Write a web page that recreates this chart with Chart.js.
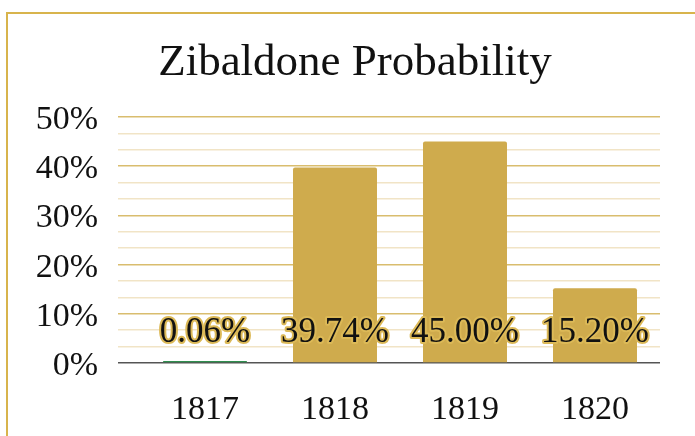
<!DOCTYPE html>
<html>
<head>
<meta charset="utf-8">
<script src="https://cdn.jsdelivr.net/npm/chart.js@4.4.0/dist/chart.umd.min.js"></script>
<style>
  html, body { margin: 0; padding: 0; background: #fff; }
  #wrap { position: relative; width: 695px; height: 436px; overflow: hidden; }
  #frame { position: absolute; left: 6px; top: 12px; width: 720px; height: 460px;
           border-top: 2px solid #d8b44c; border-left: 2px solid #d8b44c; }
  #title { position: absolute; left: 0; top: 33px; width: 710px; text-align: center;
           font: 45px/54px 'Liberation Serif', 'DejaVu Serif', serif; color: #111; }
  canvas { position: absolute; left: 0; top: 0; }
</style>
</head>
<body>
<div id="wrap">
  <div id="frame"></div>
  <canvas id="myChart" width="695" height="436"></canvas>
  <div id="title">Zibaldone Probability</div>
</div>
<script>
// values
const years = ['1817', '1818', '1819', '1820'];
const probability = [0.06, 39.74, 45.00, 15.20];
const barColors = ['#2f8f4e', '#cfab4d', '#cfab4d', '#cfab4d'];

const serif = "'Liberation Serif', 'DejaVu Serif', serif";

// labels sitting just above the base of each bar
const barLabels = {
    id: 'barLabels',
    afterDatasetsDraw(chart) {
        const ctx = chart.ctx;
        const meta = chart.getDatasetMeta(0);
        const base = chart.scales.y.getPixelForValue(0);
        ctx.save();
        ctx.font = '35px ' + serif;
        ctx.textAlign = 'center';
        ctx.textBaseline = 'alphabetic';
        ctx.lineJoin = 'round';
        meta.data.forEach((bar, i) => {
            let txt = probability[i].toFixed(2) + '%';
            ctx.strokeStyle = '#dcb957';
            ctx.lineWidth = 4;
            ctx.strokeText(txt, bar.x, base - 21);
            ctx.fillStyle = '#111';
            ctx.fillText(txt, bar.x, base - 21);
        });
        ctx.restore();
    }
};

function isMajor(v) {
    return Math.abs(v - Math.round(v / 10) * 10) < 0.01;
}

new Chart(document.getElementById('myChart'), {
    type: 'bar',
    data: {
        labels: years,
        datasets: [{
            data: probability,
            backgroundColor: barColors,
            borderRadius: 2,
            borderSkipped: 'bottom',
            minBarLength: 2,
            barPercentage: 0.646,
            categoryPercentage: 1
        }]
    },
    options: {
        responsive: false,
        animation: false,
        devicePixelRatio: 1,
        layout: { padding: { left: 0, right: 35, top: 117, bottom: 0 } },
        plugins: {
            legend: { display: false },
            tooltip: { enabled: false },
            title: { display: false }
        },
        scales: {
            x: {
                grid: { display: false },
                border: { display: false },
                ticks: {
                    color: '#111',
                    font: { family: serif, size: 34 },
                    padding: 19
                },
                afterFit: s => { s.height = 73; }
            },
            y: {
                min: 0,
                max: 50,
                border: { display: false },
                grid: {
                    drawTicks: true,
                    tickLength: 22,
                    lineWidth: 1.5,
                    color: c => c.tick.value === 0 ? '#555' : (isMajor(c.tick.value) ? '#d9bd6e' : '#f1e4c6')
                },
                ticks: {
                    stepSize: 10 / 3,
                    autoSkip: false,
                    color: '#111',
                    padding: 20,
                    labelOffset: 3,
                    font: { family: serif, size: 34 },
                    callback: v => isMajor(v) ? Math.round(v) + '%' : ''
                },
                afterFit: s => { s.width = 140; }
            }
        }
    },
    plugins: [barLabels]
});
</script>
</body>
</html>
